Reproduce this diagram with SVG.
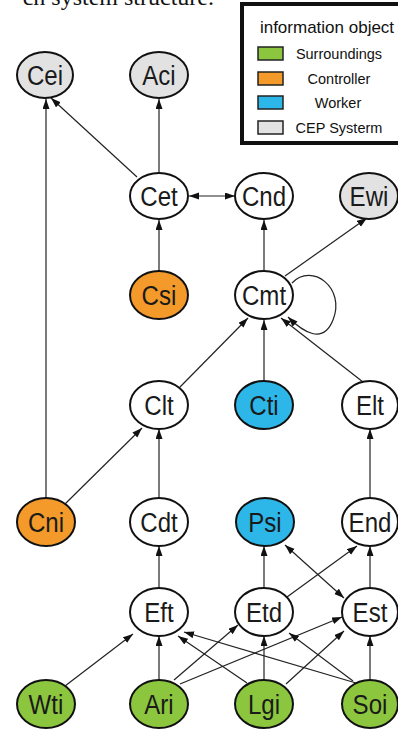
<svg xmlns="http://www.w3.org/2000/svg" width="398" height="731" viewBox="0 0 398 731">
<style>
.n ellipse{stroke:#111;stroke-width:2}
.w{fill:#fff}.g{fill:#8cc63f}.o{fill:#f39a2a}.b{fill:#2db6e8}.s{fill:#e2e2e2}
.n text{font-family:"Liberation Sans",Arial,sans-serif;font-size:28px;fill:#1a1a1a;text-anchor:middle}
.c path,.c line{stroke:#222;stroke-width:1.2;fill:none}
.lg text{font-family:"Liberation Sans",Arial,sans-serif;font-size:14.5px;fill:#111;text-anchor:middle}
.cap{font-family:"Liberation Serif","Times New Roman",serif;font-size:24px;fill:#111}
</style>
<defs>
<marker id="a" markerUnits="userSpaceOnUse" markerWidth="11" markerHeight="8" refX="10" refY="3.5" orient="auto-start-reverse">
<path d="M0,0 L10,3.5 L0,7 z" fill="#111"/>
</marker>
</defs>
<rect width="398" height="731" fill="#fff"/>
<text class="cap" x="214" y="5" text-anchor="end">ch system structure.</text>

<g id="legend" class="lg">
<rect x="242" y="4" width="170" height="139" fill="#fff" stroke="#111" stroke-width="4"/>
<text x="327" y="33" style="font-size:17px">information object</text>
<rect x="258" y="47" width="25" height="13" fill="#8cc63f" stroke="#222" stroke-width="1.5"/>
<text x="339" y="59">Surroundings</text>
<rect x="258" y="72" width="25" height="13" fill="#f39a2a" stroke="#222" stroke-width="1.5"/>
<text x="339" y="84">Controller</text>
<rect x="258" y="96" width="25" height="13" fill="#2db6e8" stroke="#222" stroke-width="1.5"/>
<text x="338" y="108">Worker</text>
<rect x="258" y="121" width="25" height="13" fill="#e2e2e2" stroke="#222" stroke-width="1.5"/>
<text x="339" y="133">CEP  Systerm</text>
</g>

<g id="connectors" class="c">
<line x1="46" y1="498" x2="46" y2="99" marker-end="url(#a)"/>
<line x1="137" y1="177" x2="51" y2="98" marker-end="url(#a)"/>
<line x1="159" y1="172" x2="159" y2="99" marker-end="url(#a)"/>
<line x1="189" y1="196" x2="235" y2="196" marker-start="url(#a)" marker-end="url(#a)"/>
<line x1="159" y1="271" x2="159" y2="220" marker-end="url(#a)"/>
<line x1="264" y1="271" x2="264" y2="220" marker-end="url(#a)"/>
<line x1="285" y1="276" x2="367" y2="218" marker-end="url(#a)"/>
<path d="M292,283 C312,262 346,288 333,320 C323,345 303,332 288,317" marker-end="url(#a)"/>
<line x1="180" y1="387" x2="248" y2="318" marker-end="url(#a)"/>
<line x1="264" y1="381" x2="264" y2="320" marker-end="url(#a)"/>
<line x1="363" y1="382" x2="281" y2="318" marker-end="url(#a)"/>
<line x1="65" y1="504" x2="142" y2="428" marker-end="url(#a)"/>
<line x1="159" y1="498" x2="159" y2="429" marker-end="url(#a)"/>
<line x1="370" y1="498" x2="370" y2="429" marker-end="url(#a)"/>
<line x1="159" y1="588" x2="159" y2="546" marker-end="url(#a)"/>
<line x1="264" y1="588" x2="264" y2="546" marker-end="url(#a)"/>
<line x1="370" y1="588" x2="370" y2="546" marker-end="url(#a)"/>
<line x1="285" y1="545" x2="344" y2="598" marker-start="url(#a)" marker-end="url(#a)"/>
<line x1="287" y1="597" x2="357" y2="546" marker-end="url(#a)"/>
<line x1="65" y1="686" x2="133" y2="634" marker-end="url(#a)"/>
<line x1="159" y1="680" x2="159" y2="636" marker-end="url(#a)"/>
<line x1="174" y1="680" x2="238" y2="625" marker-end="url(#a)"/>
<line x1="180" y1="684" x2="342" y2="617" marker-end="url(#a)"/>
<line x1="247" y1="683" x2="178" y2="636" marker-end="url(#a)"/>
<line x1="264" y1="680" x2="264" y2="636" marker-end="url(#a)"/>
<line x1="286" y1="684" x2="344" y2="631" marker-end="url(#a)"/>
<line x1="356" y1="683" x2="184" y2="632" marker-end="url(#a)"/>
<line x1="353" y1="681" x2="289" y2="633" marker-end="url(#a)"/>
<line x1="370" y1="680" x2="370" y2="636" marker-end="url(#a)"/>
</g>

<g id="Cei" class="n"><ellipse class="s" cx="45" cy="75" rx="28" ry="23"/><text transform="translate(45,85) scale(0.86,1)">Cei</text></g>
<g id="Aci" class="n"><ellipse class="s" cx="159" cy="75" rx="29" ry="23"/><text transform="translate(159,85) scale(0.86,1)">Aci</text></g>
<g id="Cet" class="n"><ellipse class="w" cx="159" cy="196" rx="29" ry="23"/><text transform="translate(159,206) scale(0.86,1)">Cet</text></g>
<g id="Cnd" class="n"><ellipse class="w" cx="264" cy="196" rx="29" ry="23"/><text transform="translate(264,206) scale(0.86,1)">Cnd</text></g>
<g id="Ewi" class="n"><ellipse class="s" cx="369" cy="196" rx="29" ry="23"/><text transform="translate(369,206) scale(0.86,1)">Ewi</text></g>
<g id="Csi" class="n"><ellipse class="o" cx="159" cy="295" rx="29" ry="24"/><text transform="translate(159,305) scale(0.86,1)">Csi</text></g>
<g id="Cmt" class="n"><ellipse class="w" cx="264" cy="295" rx="29" ry="24"/><text transform="translate(264,305) scale(0.86,1)">Cmt</text></g>
<g id="Clt" class="n"><ellipse class="w" cx="159" cy="405" rx="29" ry="24"/><text transform="translate(159,415) scale(0.86,1)">Clt</text></g>
<g id="Cti" class="n"><ellipse class="b" cx="264" cy="405" rx="29" ry="24"/><text transform="translate(264,415) scale(0.86,1)">Cti</text></g>
<g id="Elt" class="n"><ellipse class="w" cx="370" cy="405" rx="28" ry="24"/><text transform="translate(370,415) scale(0.86,1)">Elt</text></g>
<g id="Cni" class="n"><ellipse class="o" cx="46" cy="522" rx="29" ry="24"/><text transform="translate(46,532) scale(0.86,1)">Cni</text></g>
<g id="Cdt" class="n"><ellipse class="w" cx="159" cy="522" rx="29" ry="24"/><text transform="translate(159,532) scale(0.86,1)">Cdt</text></g>
<g id="Psi" class="n"><ellipse class="b" cx="265" cy="522" rx="29" ry="24"/><text transform="translate(265,532) scale(0.86,1)">Psi</text></g>
<g id="End" class="n"><ellipse class="w" cx="370" cy="522" rx="28" ry="24"/><text transform="translate(370,532) scale(0.86,1)">End</text></g>
<g id="Eft" class="n"><ellipse class="w" cx="159" cy="612" rx="29" ry="24"/><text transform="translate(159,622) scale(0.86,1)">Eft</text></g>
<g id="Etd" class="n"><ellipse class="w" cx="264" cy="612" rx="29" ry="24"/><text transform="translate(264,622) scale(0.86,1)">Etd</text></g>
<g id="Est" class="n"><ellipse class="w" cx="370" cy="612" rx="28" ry="24"/><text transform="translate(370,622) scale(0.86,1)">Est</text></g>
<g id="Wti" class="n"><ellipse class="g" cx="46" cy="704" rx="29" ry="24"/><text transform="translate(46,714) scale(0.86,1)">Wti</text></g>
<g id="Ari" class="n"><ellipse class="g" cx="159" cy="704" rx="29" ry="24"/><text transform="translate(159,714) scale(0.86,1)">Ari</text></g>
<g id="Lgi" class="n"><ellipse class="g" cx="264" cy="704" rx="29" ry="24"/><text transform="translate(264,714) scale(0.86,1)">Lgi</text></g>
<g id="Soi" class="n"><ellipse class="g" cx="370" cy="704" rx="28" ry="24"/><text transform="translate(370,714) scale(0.86,1)">Soi</text></g>
</svg>
